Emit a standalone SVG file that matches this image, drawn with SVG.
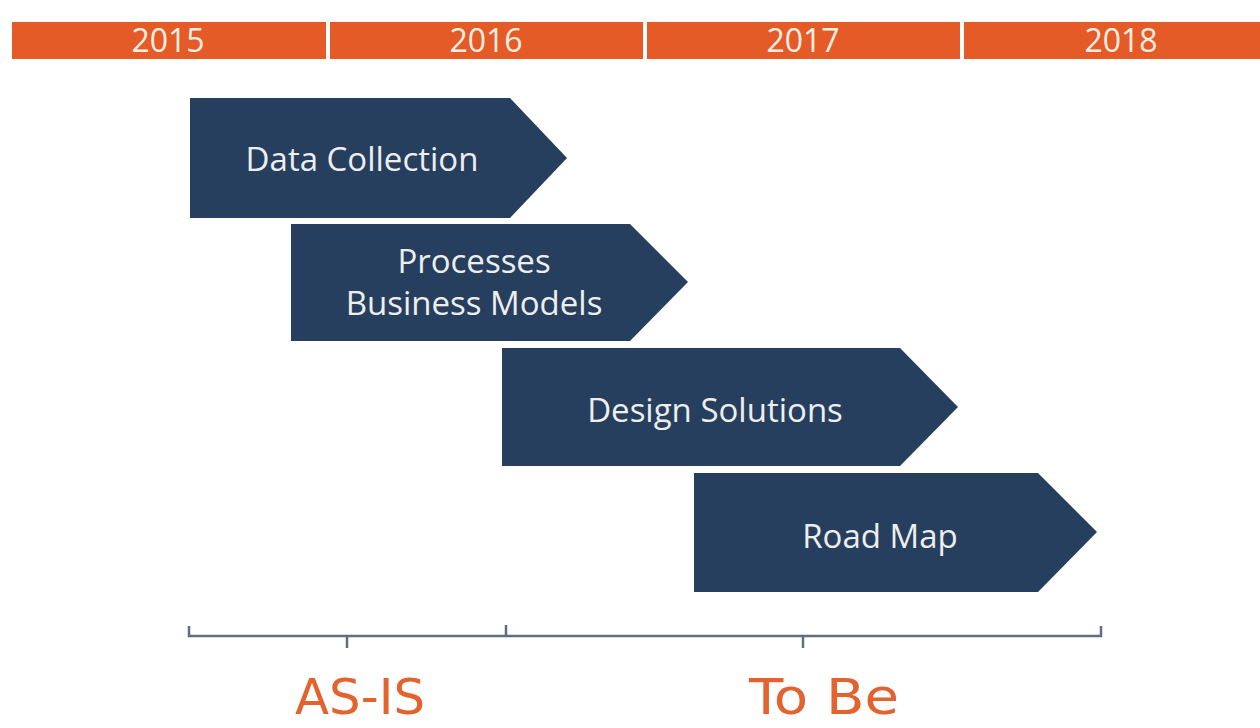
<svg xmlns="http://www.w3.org/2000/svg" width="1260" height="728" viewBox="0 0 1260 728">
<style>
.bar{fill:#E45B28}
.yr{font-family:"Open Sans","Liberation Sans",sans-serif;font-size:32px;fill:#FBEFE3;text-anchor:middle}
.arr{fill:#263F5E}
.lbl{font-family:"Open Sans","Liberation Sans",sans-serif;font-size:33px;fill:#EEEEEE;text-anchor:middle}
.br{fill:none;stroke:#5F6F80;stroke-width:2.5}
.ph{font-family:"DejaVu Sans","Liberation Sans",sans-serif;font-size:50px;fill:#E2632E;text-anchor:middle}
</style>
<rect width="1260" height="728" fill="#FFFFFF"/>
<g id="timeline">
<rect class="bar" x="12" y="22" width="314" height="37"/>
<rect class="bar" x="330" y="22" width="313" height="37"/>
<rect class="bar" x="647" y="22" width="313" height="37"/>
<rect class="bar" x="964" y="22" width="296" height="37"/>
<text class="yr" x="168" y="52">2015</text>
<text class="yr" x="486" y="52">2016</text>
<text class="yr" x="803" y="52">2017</text>
<text class="yr" x="1121" y="52">2018</text>
</g>
<g id="data-collection">
<polygon class="arr" points="190,98 510,98 567,158 510,218 190,218"/>
<text class="lbl" x="362" y="171">Data Collection</text>
</g>
<g id="processes">
<polygon class="arr" points="291,224 630,224 688,282 630,341 291,341"/>
<text class="lbl" x="474" y="273">Processes</text>
<text class="lbl" x="474" y="315">Business Models</text>
</g>
<g id="design-solutions">
<polygon class="arr" points="502,348 900,348 958,407 900,466 502,466"/>
<text class="lbl" x="715" y="422">Design Solutions</text>
</g>
<g id="road-map">
<polygon class="arr" points="694,473 1038,473 1097,532 1038,592 694,592"/>
<text class="lbl" x="880" y="548">Road Map</text>
</g>
<g id="connectors">
<path class="br" d="M189,626 V636 H1101 V626 M347,636 V648 M506,636 V625 M803,636 V648"/>
</g>
<g id="as-is">
<text class="ph" x="360" y="714" textLength="130" lengthAdjust="spacingAndGlyphs">AS-IS</text>
</g>
<g id="to-be">
<text class="ph" x="824" y="714" textLength="150" lengthAdjust="spacingAndGlyphs">To Be</text>
</g>
</svg>
